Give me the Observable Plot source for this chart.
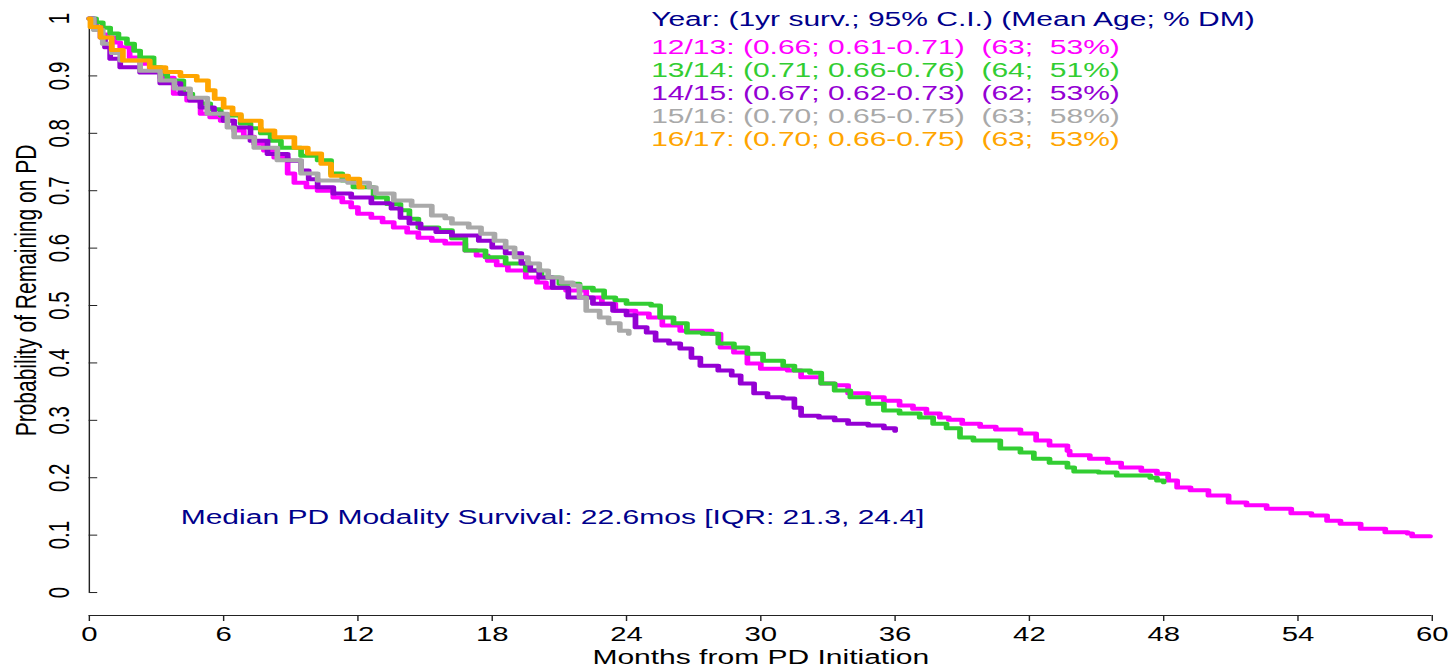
<!DOCTYPE html>
<html>
<head>
<meta charset="utf-8">
<script src="https://cdn.jsdelivr.net/npm/d3@7"></script>
<script src="https://cdn.jsdelivr.net/npm/@observablehq/plot@0.6"></script>
<style>
  html, body { margin: 0; padding: 0; background: #fff; overflow: hidden; }
  svg text { white-space: pre; }
</style>
</head>
<body>
<div id="chart"></div>
<script>
// ---------- data (months, probability of remaining on PD) ----------
const cohorts = ["12/13", "13/14", "14/15", "15/16", "16/17"];
const colors  = ["#FF00FF", "#32CD32", "#9400D3", "#A9A9A9", "#FFA500"];

const surv1213 = [[0,1],[0.15,0.99],[0.3,0.98],[0.55,0.972],[0.8,0.967],[1.1,0.958],[1.38,0.95],[1.8,0.932],[2.27,0.921],[2.7,0.91],[3.17,0.897],[3.77,0.869],[4.37,0.857],[4.97,0.834],[5.4,0.828],[5.87,0.822],[6.47,0.805],[6.9,0.794],[7.36,0.782],[7.8,0.77],[8.26,0.758],[8.86,0.73],[9.16,0.714],[9.7,0.706],[10.2,0.7],[10.9,0.688],[11.3,0.68],[11.7,0.671],[12.0,0.66],[12.6,0.653],[13.1,0.645],[13.6,0.636],[14.2,0.627],[14.7,0.618],[15.3,0.613],[15.9,0.608],[16.8,0.596],[17.3,0.587],[17.8,0.578],[18.2,0.57],[18.7,0.561],[19.5,0.549],[20.0,0.54],[20.4,0.531],[21.3,0.526],[22.2,0.514],[22.9,0.503],[23.5,0.491],[24.4,0.486],[25.0,0.479],[25.6,0.465],[26.4,0.456],[27.8,0.451],[28.2,0.427],[28.8,0.418],[29.4,0.399],[30.0,0.39],[31.2,0.387],[31.8,0.375],[32.7,0.364],[33.3,0.361],[33.9,0.347],[34.8,0.34],[35.5,0.334],[36.2,0.326],[36.8,0.32],[37.4,0.312],[38.0,0.305],[38.4,0.301],[39.0,0.294],[39.8,0.289],[40.5,0.284],[41.6,0.277],[42.3,0.265],[42.9,0.256],[43.7,0.247],[43.8,0.239],[44.7,0.233],[45.5,0.226],[46.1,0.218],[47.0,0.212],[47.7,0.207],[48.2,0.195],[48.6,0.183],[49.2,0.178],[50.0,0.169],[50.9,0.157],[51.7,0.152],[52.6,0.146],[53.7,0.138],[54.6,0.134],[55.3,0.125],[55.9,0.12],[56.8,0.111],[57.9,0.105],[58.9,0.103],[59.1,0.098],[59.9,0.098]];

const surv1314 = [[0,1],[0.3,0.993],[0.6,0.984],[0.93,0.974],[1.3,0.965],[1.68,0.956],[2.0,0.944],[2.27,0.932],[2.87,0.915],[3.2,0.903],[3.48,0.892],[4.2,0.869],[4.6,0.86],[4.97,0.852],[5.4,0.842],[5.87,0.831],[6.76,0.817],[7.2,0.809],[7.66,0.8],[8.1,0.787],[8.56,0.775],[9.46,0.761],[10.2,0.753],[10.8,0.73],[11.3,0.718],[11.8,0.706],[12.7,0.688],[13.3,0.677],[13.9,0.666],[14.3,0.651],[14.7,0.636],[15.6,0.631],[16.2,0.617],[16.8,0.596],[17.7,0.584],[18.6,0.573],[19.5,0.561],[20.2,0.549],[21.0,0.538],[21.9,0.531],[22.5,0.526],[23.0,0.514],[23.5,0.509],[24.0,0.503],[25.1,0.5],[25.5,0.479],[26.1,0.469],[26.7,0.453],[27.4,0.451],[28.1,0.434],[28.8,0.427],[29.4,0.416],[30.1,0.404],[31.0,0.395],[31.5,0.387],[32.2,0.383],[32.7,0.364],[33.3,0.352],[34.0,0.34],[34.8,0.329],[35.5,0.317],[36.2,0.312],[37.1,0.305],[37.7,0.294],[38.3,0.286],[38.9,0.27],[39.5,0.265],[40.7,0.251],[41.6,0.244],[42.2,0.233],[42.9,0.226],[43.7,0.218],[44.0,0.211],[45.1,0.209],[45.9,0.204],[47.4,0.2],[47.7,0.195],[48.0,0.192]];

const surv1415 = [[0,1],[0.2,0.985],[0.5,0.967],[0.7,0.95],[0.93,0.93],[1.38,0.915],[2.27,0.906],[3.17,0.887],[4.07,0.869],[4.5,0.857],[4.97,0.845],[5.57,0.834],[6.0,0.822],[6.47,0.81],[7.2,0.787],[7.96,0.764],[8.86,0.752],[9.46,0.735],[9.8,0.72],[10.2,0.706],[10.9,0.695],[11.7,0.688],[12.6,0.678],[13.5,0.669],[13.9,0.653],[14.3,0.643],[14.8,0.634],[15.5,0.628],[16.2,0.622],[17.4,0.613],[18.0,0.601],[18.6,0.591],[19.3,0.573],[19.7,0.561],[20.1,0.549],[20.7,0.531],[21.4,0.514],[22.5,0.503],[23.4,0.491],[24.0,0.483],[24.4,0.462],[24.9,0.453],[25.3,0.439],[25.9,0.434],[26.4,0.425],[26.9,0.409],[27.3,0.395],[28.1,0.387],[28.7,0.378],[29.1,0.364],[29.7,0.347],[30.3,0.34],[31.0,0.338],[31.5,0.322],[31.8,0.308],[32.6,0.305],[33.3,0.3],[33.9,0.294],[34.8,0.291],[35.5,0.286],[36.0,0.282]];

const surv1516 = [[0,1],[0.2,0.98],[0.6,0.956],[1.0,0.94],[1.38,0.927],[2.27,0.909],[3.17,0.892],[3.8,0.878],[4.5,0.862],[5.27,0.834],[6.17,0.81],[6.47,0.793],[7.37,0.775],[8.4,0.753],[9.46,0.73],[10.2,0.718],[11.56,0.714],[12.5,0.706],[12.8,0.695],[13.6,0.683],[14.4,0.674],[15.3,0.657],[15.9,0.652],[16.2,0.643],[16.95,0.636],[17.5,0.625],[18.1,0.613],[18.6,0.601],[19.0,0.584],[19.6,0.573],[20.1,0.561],[20.5,0.549],[21.1,0.54],[21.6,0.535],[21.9,0.514],[22.2,0.491],[22.8,0.479],[23.2,0.469],[23.7,0.456],[24.1,0.451]];

const surv1617 = [[0,1],[0.05,0.985],[0.5,0.967],[1.0,0.945],[1.5,0.927],[2.7,0.915],[3.4,0.907],[4.07,0.9],[4.8,0.892],[5.3,0.875],[5.6,0.86],[6.0,0.845],[6.4,0.833],[6.77,0.822],[7.66,0.805],[8.27,0.793],[9.16,0.775],[9.76,0.765],[10.36,0.747],[10.8,0.726],[11.56,0.721],[12.06,0.706],[12.2,0.706]];

const seriesData = [surv1213, surv1314, surv1415, surv1516, surv1617];

const legendTitle = "Year: (1yr surv.; 95% C.I.) (Mean Age; % DM)";
const legendRows = [
  "12/13: (0.66; 0.61-0.71)  (63;  53%)",
  "13/14: (0.71; 0.66-0.76)  (64;  51%)",
  "14/15: (0.67; 0.62-0.73)  (62;  53%)",
  "15/16: (0.70; 0.65-0.75)  (63;  58%)",
  "16/17: (0.70; 0.66-0.75)  (63;  53%)"
];
const medianNote = "Median PD Modality Survival: 22.6mos [IQR: 21.3, 24.4]";

const xTicks = [0, 6, 12, 18, 24, 30, 36, 42, 48, 54, 60];
const yTicks = [0, 0.1, 0.2, 0.3, 0.4, 0.5, 0.6, 0.7, 0.8, 0.9, 1];
const xTitle = "Months from PD Initiation";
const yTitle = "Probability of Remaining on PD";

// ---------- build ----------
const rows = seriesData.flatMap((s, k) => s.map(([m, p]) => ({cohort: cohorts[k], m, p})));

const W0 = 1015;           // drawing width before the horizontal stretch
const STRETCH = 1451 / W0; // reference is horizontally stretched
const font = "'Liberation Sans', Arial, Helvetica, sans-serif";

const chart = Plot.plot({
  width: W0,
  height: 667,
  marginLeft: 62,
  marginRight: 13.6,
  marginTop: 18,
  marginBottom: 52,
  style: {fontFamily: font, fontSize: "20.5px", background: "#fff", color: "#000"},
  x: {domain: [0, 60], ticks: xTicks},
  y: {domain: [-0.04, 1], ticks: yTicks},
  color: {domain: cohorts, range: colors},
  marks: [
    Plot.ruleX([0], {y1: 0, y2: 1, stroke: "#222", strokeWidth: 1}),
    Plot.ruleY([-0.04], {x1: 0, x2: 60, stroke: "#222", strokeWidth: 1}),
    Plot.axisX({ticks: xTicks, tickSize: 6, tickPadding: 5, stroke: "#222", label: null}),
    Plot.text([xTitle], {frameAnchor: "bottom", dy: 48, lineAnchor: "bottom",
      textAnchor: "middle", fontSize: 21, fill: "#000"}),
    Plot.axisY({ticks: yTicks, tickSize: -6, tickPadding: 20, tickRotate: -90,
      stroke: "#222", tickFormat: d => String(d), label: null}),
    Plot.text([yTitle], {frameAnchor: "left", rotate: -90, dx: -37.5, dy: -26.5,
      lineAnchor: "bottom", textAnchor: "middle", fontSize: 21, fill: "#000"}),
    Plot.line(rows, {x: "m", y: "p", z: "cohort", stroke: "cohort", curve: "step-after",
      strokeWidth: 4, strokeLinejoin: "round", strokeLinecap: "round"}),
    Plot.text([legendTitle], {x: 25.1, y: 0.9866, textAnchor: "start", lineAnchor: "bottom",
      fontSize: 21, fill: "#00008B"}),
    Plot.text(legendRows, {x: 25.1, y: (d, i) => 0.9378 - 0.04007 * i, text: d => d,
      fill: (d, i) => colors[i], textAnchor: "start", lineAnchor: "bottom", fontSize: 21}),
    Plot.text([medianNote], {x: 4.08, y: 0.119, textAnchor: "start", lineAnchor: "bottom",
      fontSize: 21, fill: "#00008B"})
  ]
});

chart.setAttribute("viewBox", `0 0 ${W0} 667`);
chart.setAttribute("preserveAspectRatio", "none");
chart.setAttribute("width", Math.round(W0 * STRETCH));
chart.setAttribute("height", 667);
chart.style.maxWidth = "none";
chart.style.width = Math.round(W0 * STRETCH) + "px";
chart.style.height = "667px";
chart.style.display = "block";
document.getElementById("chart").appendChild(chart);
</script>
</body>
</html>
